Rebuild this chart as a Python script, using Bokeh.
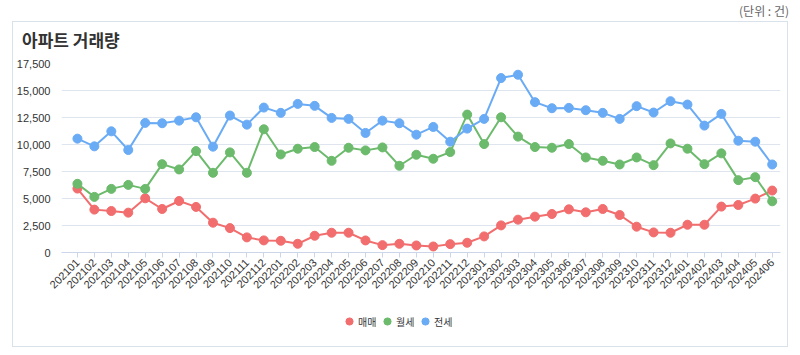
from math import pi
from bokeh.plotting import figure
from bokeh.models import (Range1d, FixedTicker, NumeralTickFormatter, Legend,
                          LegendItem, ColumnDataSource, Div)
from bokeh.layouts import column
from bokeh.embed import file_html
from bokeh.resources import INLINE

months = ["202101", "202102", "202103", "202104", "202105", "202106",
          "202107", "202108", "202109", "202110", "202111", "202112",
          "202201", "202202", "202203", "202204", "202205", "202206",
          "202207", "202208", "202209", "202210", "202211", "202212",
          "202301", "202302", "202303", "202304", "202305", "202306",
          "202307", "202308", "202309", "202310", "202311", "202312",
          "202401", "202402", "202403", "202404", "202405", "202406"]

sale = [5920, 3970, 3840, 3690, 5020, 4030, 4770, 4220, 2760, 2260, 1400, 1120,
        1085, 806, 1550, 1830, 1830, 1116, 682, 806, 651, 558, 775, 900,
        1490, 2510, 3040, 3320, 3565, 4000, 3720, 4030, 3470, 2390, 1860, 1830,
        2570, 2570, 4250, 4400, 4990, 5735]

monthly_rent = [6360, 5150, 5890, 6260, 5890, 8180, 7690, 9390, 7380, 9270, 7380, 11410,
                9080, 9610, 9765, 8490, 9700, 9455, 9730, 8030, 9050, 8680, 9300, 12770,
                10040, 12520, 10730, 9765, 9700, 10040, 8800, 8490, 8150, 8800, 8090, 10100,
                9610, 8180, 9180, 6700, 6975, 4740]

jeonse = [10540, 9830, 11220, 9490, 12000, 11970, 12210, 12520, 9800, 12680, 11840, 13420,
          12930, 13760, 13580, 12460, 12370, 11070, 12210, 11970, 10910, 11625, 10260, 11470,
          12370, 16150, 16460, 13920, 13360, 13390, 13175, 12930, 12370, 13550, 12960, 14010,
          13700, 11750, 12830, 10350, 10260, 8150]

series_names = ["매매", "월세", "전세"]
series_colors = ["#f26d6d", "#6cba6c", "#6aabf5"]
y_ticks = [0, 2500, 5000, 7500, 10000, 12500, 15000, 17500]

idx = list(range(len(months)))
src = ColumnDataSource(dict(x=idx, sale=sale, monthly=monthly_rent, jeonse=jeonse))

KFONT = "Noto Sans CJK KR"
NFONT = "Liberation Sans"

title_div = Div(text="아파트 거래량", width=774, height=30, margin=(0, 0, 0, 0),
                styles={"font-family": KFONT, "font-size": "17px", "font-weight": "bold",
                        "color": "#333333", "line-height": "20px",
                        "padding": "8px 0 0 9px", "box-sizing": "border-box"})

p = figure(width=774, height=245, title=None,
           x_range=Range1d(-0.94, 41.49), y_range=Range1d(0, 17500),
           output_backend="svg", toolbar_location=None,
           min_border_left=45, min_border_right=7, min_border_top=11,
           min_border_bottom=45)

p.outline_line_color = None
p.xgrid.grid_line_color = None
p.ygrid.grid_line_color = "#dfe5ee"
p.ygrid.grid_line_width = 1
p.ygrid.ticker = FixedTicker(ticks=y_ticks)

ya = p.yaxis[0]
ya.ticker = FixedTicker(ticks=y_ticks)
ya.formatter = NumeralTickFormatter(format="0,0")
ya.axis_line_color = None
ya.major_tick_line_color = None
ya.minor_tick_line_color = None
ya.major_label_text_font = NFONT
ya.major_label_text_font_size = "11px"
ya.major_label_text_color = "#333333"
ya.major_label_standoff = 5

xa = p.xaxis[0]
xa.ticker = FixedTicker(ticks=idx)
xa.major_label_overrides = {i: m for i, m in zip(idx, months)}
xa.major_label_orientation = pi / 4
xa.axis_line_color = "#ccd6eb"
xa.major_tick_line_color = "#ccd6eb"
xa.major_tick_in = 0
xa.major_tick_out = 5
xa.minor_tick_line_color = None
xa.major_label_text_font = NFONT
xa.major_label_text_font_size = "11px"
xa.major_label_text_color = "#333333"
xa.major_label_standoff = 3

for col, color in zip(["sale", "monthly", "jeonse"], series_colors):
    p.line("x", col, source=src, line_color=color, line_width=2)
    p.scatter("x", col, source=src, size=9, fill_color=color, line_color=color)

# legend strip (separate small canvas inside the same bordered box);
# its renderers use the real series but lie outside this strip's view
lf = figure(width=774, height=49, output_backend="svg", toolbar_location=None,
            x_range=Range1d(0, 1), y_range=Range1d(0, 1),
            x_axis_location=None, y_axis_location=None, min_border=0)
lf.outline_line_color = None
lf.grid.visible = False

items = []
for col, name, color in zip(["sale", "monthly", "jeonse"], series_names, series_colors):
    r = lf.scatter("x", col, source=src, size=9, fill_color=color, line_color=color)
    items.append(LegendItem(label=name, renderers=[r]))

legend = Legend(items=items, orientation="horizontal", location=(279, 14),
                border_line_color=None, background_fill_alpha=0,
                label_text_font=KFONT, label_text_font_size="10px",
                label_text_color="#333333", label_text_baseline="middle",
                glyph_width=18, glyph_height=22, label_standoff=0,
                spacing=-2, padding=0, margin=0)
lf.add_layout(legend)

box = column(title_div, p, lf, spacing=0, margin=(0, 0, 0, 12),
             styles={"border": "1px solid #d9e1ea"})

unit = Div(text="(단위 : 건)", width=789, height=21, margin=(0, 0, 0, 0),
           styles={"text-align": "right", "font-size": "12px", "color": "#666666",
                   "font-family": KFONT, "line-height": "14px",
                   "padding-top": "4px", "box-sizing": "border-box"})

layout = column(unit, box, spacing=0)

open("out.html", "w").write(file_html(layout, INLINE))
